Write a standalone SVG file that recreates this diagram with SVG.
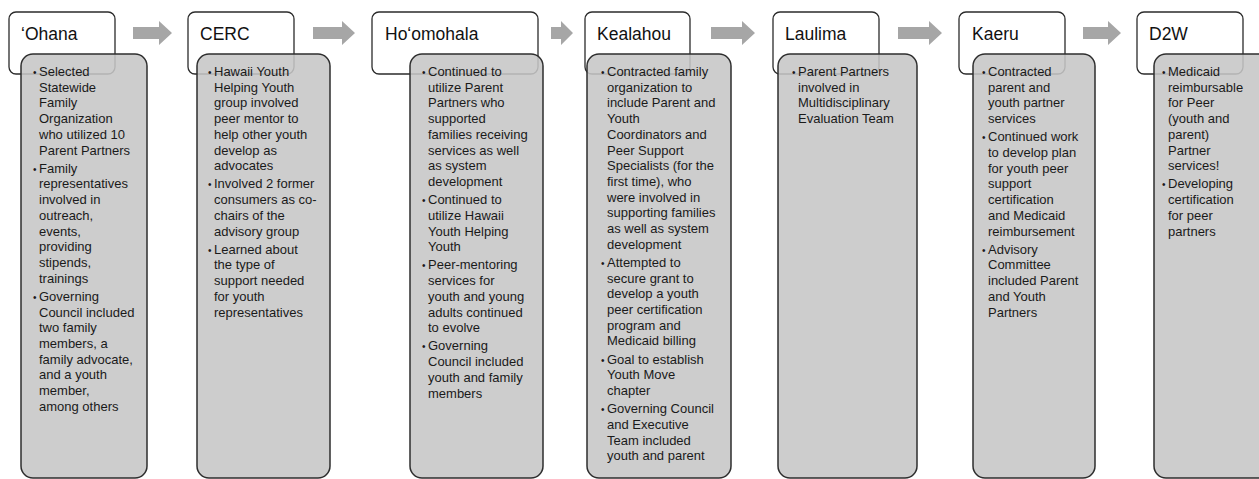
<svg xmlns="http://www.w3.org/2000/svg" width="1259" height="479" viewBox="0 0 1259 479">
<style>
.hd{fill:#ffffff;stroke:#2b2b2b;stroke-width:1.3}
.bd{fill:#c6c6c6;fill-opacity:0.88;stroke:#2e2e2e;stroke-width:1.5}
.ht{font-family:"Liberation Sans",Arial,sans-serif;font-size:17.5px;fill:#111111}
.bt{font-family:"Liberation Sans",Arial,sans-serif;font-size:13px;fill:#1a1a1a}
.bu{font-size:10px}
.ar{fill:#a6a6a6}
</style>
<rect width="1259" height="479" fill="#ffffff"/>
<g id="connectors">
<polygon class="ar" points="133,27 159,27 159,21 172,33 159,45 159,39 133,39"/>
<polygon class="ar" points="313,27 342,27 342,21 355,33 342,45 342,39 313,39"/>
<polygon class="ar" points="551,27 561,27 561,21 573,33 561,45 561,39 551,39"/>
<polygon class="ar" points="711,27 742,27 742,21 755,33 742,45 742,39 711,39"/>
<polygon class="ar" points="898,27 929,27 929,21 942,33 929,45 929,39 898,39"/>
<polygon class="ar" points="1083,27 1108,27 1108,21 1121,33 1108,45 1108,39 1083,39"/>
</g>
<g id="ohana">
<rect class="hd" x="9" y="12" width="106" height="62" rx="7"/>
<text class="ht" x="21" y="40">‘Ohana</text>
<rect class="bd" x="21" y="54" width="126" height="424" rx="12"/>
<text class="bt" y="76"><tspan class="bu" x="33">•</tspan><tspan x="39">Selected</tspan><tspan x="39" dy="15.7">Statewide</tspan><tspan x="39" dy="15.7">Family</tspan><tspan x="39" dy="15.7">Organization</tspan><tspan x="39" dy="15.7">who utilized 10</tspan><tspan x="39" dy="15.7">Parent Partners</tspan></text>
<text class="bt" y="172.7"><tspan class="bu" x="33">•</tspan><tspan x="39">Family</tspan><tspan x="39" dy="15.7">representatives</tspan><tspan x="39" dy="15.7">involved in</tspan><tspan x="39" dy="15.7">outreach,</tspan><tspan x="39" dy="15.7">events,</tspan><tspan x="39" dy="15.7">providing</tspan><tspan x="39" dy="15.7">stipends,</tspan><tspan x="39" dy="15.7">trainings</tspan></text>
<text class="bt" y="300.8"><tspan class="bu" x="33">•</tspan><tspan x="39">Governing</tspan><tspan x="39" dy="15.7">Council included</tspan><tspan x="39" dy="15.7">two family</tspan><tspan x="39" dy="15.7">members, a</tspan><tspan x="39" dy="15.7">family advocate,</tspan><tspan x="39" dy="15.7">and a youth</tspan><tspan x="39" dy="15.7">member,</tspan><tspan x="39" dy="15.7">among others</tspan></text>
</g>
<g id="cerc">
<rect class="hd" x="188" y="12" width="106" height="62" rx="7"/>
<text class="ht" x="200" y="40">CERC</text>
<rect class="bd" x="197" y="54" width="133" height="424" rx="12"/>
<text class="bt" y="76"><tspan class="bu" x="208">•</tspan><tspan x="214">Hawaii Youth</tspan><tspan x="214" dy="15.7">Helping Youth</tspan><tspan x="214" dy="15.7">group involved</tspan><tspan x="214" dy="15.7">peer mentor to</tspan><tspan x="214" dy="15.7">help other youth</tspan><tspan x="214" dy="15.7">develop as</tspan><tspan x="214" dy="15.7">advocates</tspan></text>
<text class="bt" y="188.4"><tspan class="bu" x="208">•</tspan><tspan x="214">Involved 2 former</tspan><tspan x="214" dy="15.7">consumers as co-</tspan><tspan x="214" dy="15.7">chairs of the</tspan><tspan x="214" dy="15.7">advisory group</tspan></text>
<text class="bt" y="253.7"><tspan class="bu" x="208">•</tspan><tspan x="214">Learned about</tspan><tspan x="214" dy="15.7">the type of</tspan><tspan x="214" dy="15.7">support needed</tspan><tspan x="214" dy="15.7">for youth</tspan><tspan x="214" dy="15.7">representatives</tspan></text>
</g>
<g id="hoomohala">
<rect class="hd" x="372" y="12" width="166" height="62" rx="7"/>
<text class="ht" x="385" y="40">Ho‘omohala</text>
<rect class="bd" x="410" y="54" width="133" height="424" rx="12"/>
<text class="bt" y="76"><tspan class="bu" x="422">•</tspan><tspan x="428">Continued to</tspan><tspan x="428" dy="15.7">utilize Parent</tspan><tspan x="428" dy="15.7">Partners who</tspan><tspan x="428" dy="15.7">supported</tspan><tspan x="428" dy="15.7">families receiving</tspan><tspan x="428" dy="15.7">services as well</tspan><tspan x="428" dy="15.7">as system</tspan><tspan x="428" dy="15.7">development</tspan></text>
<text class="bt" y="204.1"><tspan class="bu" x="422">•</tspan><tspan x="428">Continued to</tspan><tspan x="428" dy="15.7">utilize Hawaii</tspan><tspan x="428" dy="15.7">Youth Helping</tspan><tspan x="428" dy="15.7">Youth</tspan></text>
<text class="bt" y="269.4"><tspan class="bu" x="422">•</tspan><tspan x="428">Peer-mentoring</tspan><tspan x="428" dy="15.7">services for</tspan><tspan x="428" dy="15.7">youth and young</tspan><tspan x="428" dy="15.7">adults continued</tspan><tspan x="428" dy="15.7">to evolve</tspan></text>
<text class="bt" y="350.4"><tspan class="bu" x="422">•</tspan><tspan x="428">Governing</tspan><tspan x="428" dy="15.7">Council included</tspan><tspan x="428" dy="15.7">youth and family</tspan><tspan x="428" dy="15.7">members</tspan></text>
</g>
<g id="kealahou">
<rect class="hd" x="585" y="12" width="105" height="62" rx="7"/>
<text class="ht" x="597" y="40">Kealahou</text>
<rect class="bd" x="587" y="54" width="144" height="424" rx="12"/>
<text class="bt" y="76"><tspan class="bu" x="601">•</tspan><tspan x="607">Contracted family</tspan><tspan x="607" dy="15.7">organization to</tspan><tspan x="607" dy="15.7">include Parent and</tspan><tspan x="607" dy="15.7">Youth</tspan><tspan x="607" dy="15.7">Coordinators and</tspan><tspan x="607" dy="15.7">Peer Support</tspan><tspan x="607" dy="15.7">Specialists (for the</tspan><tspan x="607" dy="15.7">first time), who</tspan><tspan x="607" dy="15.7">were involved in</tspan><tspan x="607" dy="15.7">supporting families</tspan><tspan x="607" dy="15.7">as well as system</tspan><tspan x="607" dy="15.7">development</tspan></text>
<text class="bt" y="266.9"><tspan class="bu" x="601">•</tspan><tspan x="607">Attempted to</tspan><tspan x="607" dy="15.7">secure grant to</tspan><tspan x="607" dy="15.7">develop a youth</tspan><tspan x="607" dy="15.7">peer certification</tspan><tspan x="607" dy="15.7">program and</tspan><tspan x="607" dy="15.7">Medicaid billing</tspan></text>
<text class="bt" y="363.6"><tspan class="bu" x="601">•</tspan><tspan x="607">Goal to establish</tspan><tspan x="607" dy="15.7">Youth Move</tspan><tspan x="607" dy="15.7">chapter</tspan></text>
<text class="bt" y="413.2"><tspan class="bu" x="601">•</tspan><tspan x="607">Governing Council</tspan><tspan x="607" dy="15.7">and Executive</tspan><tspan x="607" dy="15.7">Team included</tspan><tspan x="607" dy="15.7">youth and parent</tspan></text>
</g>
<g id="laulima">
<rect class="hd" x="773" y="12" width="106" height="62" rx="7"/>
<text class="ht" x="785" y="40">Laulima</text>
<rect class="bd" x="778" y="54" width="139" height="424" rx="12"/>
<text class="bt" y="76"><tspan class="bu" x="792">•</tspan><tspan x="798">Parent Partners</tspan><tspan x="798" dy="15.7">involved in</tspan><tspan x="798" dy="15.7">Multidisciplinary</tspan><tspan x="798" dy="15.7">Evaluation Team</tspan></text>
</g>
<g id="kaeru">
<rect class="hd" x="959" y="12" width="106" height="62" rx="7"/>
<text class="ht" x="972" y="40">Kaeru</text>
<rect class="bd" x="973" y="54" width="122" height="424" rx="12"/>
<text class="bt" y="76"><tspan class="bu" x="982">•</tspan><tspan x="988">Contracted</tspan><tspan x="988" dy="15.7">parent and</tspan><tspan x="988" dy="15.7">youth partner</tspan><tspan x="988" dy="15.7">services</tspan></text>
<text class="bt" y="141.3"><tspan class="bu" x="982">•</tspan><tspan x="988">Continued work</tspan><tspan x="988" dy="15.7">to develop plan</tspan><tspan x="988" dy="15.7">for youth peer</tspan><tspan x="988" dy="15.7">support</tspan><tspan x="988" dy="15.7">certification</tspan><tspan x="988" dy="15.7">and Medicaid</tspan><tspan x="988" dy="15.7">reimbursement</tspan></text>
<text class="bt" y="253.7"><tspan class="bu" x="982">•</tspan><tspan x="988">Advisory</tspan><tspan x="988" dy="15.7">Committee</tspan><tspan x="988" dy="15.7">included Parent</tspan><tspan x="988" dy="15.7">and Youth</tspan><tspan x="988" dy="15.7">Partners</tspan></text>
</g>
<g id="d2w">
<rect class="hd" x="1137" y="12" width="106" height="62" rx="7"/>
<text class="ht" x="1149" y="40">D2W</text>
<rect class="bd" x="1154" y="54" width="140" height="424" rx="12"/>
<text class="bt" y="76"><tspan class="bu" x="1162">•</tspan><tspan x="1168">Medicaid</tspan><tspan x="1168" dy="15.7">reimbursable</tspan><tspan x="1168" dy="15.7">for Peer</tspan><tspan x="1168" dy="15.7">(youth and</tspan><tspan x="1168" dy="15.7">parent)</tspan><tspan x="1168" dy="15.7">Partner</tspan><tspan x="1168" dy="15.7">services!</tspan></text>
<text class="bt" y="188.4"><tspan class="bu" x="1162">•</tspan><tspan x="1168">Developing</tspan><tspan x="1168" dy="15.7">certification</tspan><tspan x="1168" dy="15.7">for peer</tspan><tspan x="1168" dy="15.7">partners</tspan></text>
</g>
</svg>
